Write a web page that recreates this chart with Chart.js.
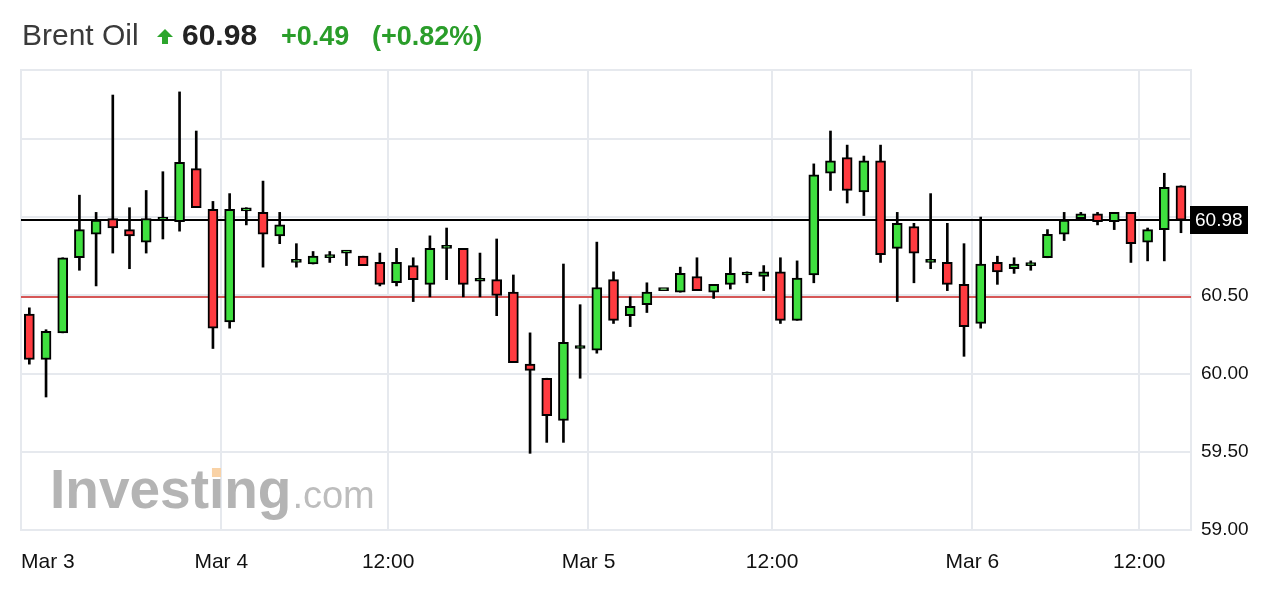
<!DOCTYPE html>
<html>
<head>
<meta charset="utf-8">
<title>Brent Oil</title>
<script src="https://cdn.jsdelivr.net/npm/chart.js@4.4.1/dist/chart.umd.min.js"></script>
<style>
    html, body { margin: 0; padding: 0; background: #fff; }
    body {
        width: 1264px; height: 614px; position: relative; overflow: hidden;
        font-family: "Liberation Sans", Arial, Helvetica, sans-serif;
    }
    #chartWrap { position: absolute; left: 0; top: 0; width: 1264px; height: 614px; }
    .hdr { position: absolute; line-height: 36px; white-space: nowrap; }
    .name { left: 22px; top: 17px; font-size: 30px; color: #3a3a3a; }
    .arrow { left: 157px; top: 29px; width: 16px; height: 15px; }
    .price { left: 182px; top: 17px; font-size: 30px; font-weight: bold; color: #222; }
    .chg { left: 281px; top: 18px; font-size: 27px; font-weight: bold; color: #2a9d2a; }
    .pct { left: 372px; top: 18px; font-size: 27px; font-weight: bold; color: #2a9d2a; }
</style>
</head>
<body>
<div id="chartWrap"><canvas id="brentChart" width="1264" height="614"></canvas></div>
<div class="hdr name">Brent Oil</div>
<svg class="hdr arrow" viewBox="0 0 16 15"><path d="M8 0 L16 8 L11 8 L11 15 L5 15 L5 8 L0 8 Z" fill="#2ca52c"/></svg>
<div class="hdr price">60.98</div>
<div class="hdr chg">+0.49</div>
<div class="hdr pct">(+0.82%)</div>

<script>
// x axis labels (candle index positions, hourly candles)
const timeLabels = ['Mar 3', 'Mar 4', '12:00', 'Mar 5', '12:00', 'Mar 6', '12:00'];
const timeTickPos = [-0.5, 11.5, 21.5, 33.5, 44.5, 56.5, 66.5];

// OHLC values
const opens  = [60.38, 60.09, 60.26, 60.74, 60.89, 60.99, 60.92, 60.84, 60.98, 60.97,
                61.31, 61.05, 60.33, 61.04, 61.03, 60.88, 60.71, 60.70, 60.74, 60.77,
                60.75, 60.71, 60.58, 60.69, 60.57, 60.80, 60.80, 60.59, 60.60, 60.52,
                60.06, 59.97, 59.70, 60.16, 60.15, 60.60, 60.37, 60.44, 60.53, 60.52,
                60.62, 60.52, 60.57, 60.63, 60.62, 60.65, 60.34, 60.63, 61.28, 61.38,
                61.16, 61.36, 60.80, 60.94, 60.71, 60.71, 60.57, 60.32, 60.71, 60.67,
                60.69, 60.74, 60.89, 60.99, 61.02, 60.97, 61.03, 60.84, 60.92, 61.20];
const highs  = [60.42, 60.28, 60.74, 61.14, 61.03, 61.78, 61.06, 61.17, 61.29, 61.80,
                61.55, 61.10, 61.15, 61.06, 61.23, 61.03, 60.83, 60.78, 60.78, 60.78,
                60.75, 60.77, 60.80, 60.74, 60.88, 60.93, 60.80, 60.77, 60.86, 60.63,
                60.26, 59.97, 60.70, 60.44, 60.84, 60.65, 60.49, 60.58, 60.53, 60.68,
                60.74, 60.57, 60.74, 60.65, 60.69, 60.74, 60.72, 61.34, 61.55, 61.46,
                61.39, 61.46, 61.03, 60.96, 61.15, 60.96, 60.83, 61.00, 60.75, 60.74,
                60.72, 60.92, 61.03, 61.03, 61.03, 61.03, 61.03, 60.93, 61.28, 61.20];
const lows   = [60.06, 59.85, 60.26, 60.66, 60.56, 60.77, 60.67, 60.77, 60.86, 60.91,
                61.06, 60.16, 60.29, 60.95, 60.68, 60.83, 60.68, 60.70, 60.71, 60.69,
                60.69, 60.56, 60.56, 60.46, 60.49, 60.60, 60.49, 60.49, 60.37, 60.07,
                59.49, 59.56, 59.56, 59.97, 60.13, 60.32, 60.30, 60.39, 60.53, 60.52,
                60.53, 60.48, 60.54, 60.58, 60.53, 60.32, 60.34, 60.58, 61.17, 61.09,
                61.01, 60.71, 60.46, 60.58, 60.67, 60.53, 60.11, 60.29, 60.57, 60.64,
                60.66, 60.74, 60.85, 60.99, 60.95, 60.92, 60.71, 60.72, 60.72, 60.90];
const closes = [60.09, 60.27, 60.74, 60.92, 60.98, 60.93, 60.88, 60.99, 60.98, 61.35,
                61.06, 60.29, 61.05, 61.04, 60.89, 60.95, 60.71, 60.75, 60.76, 60.77,
                60.69, 60.57, 60.71, 60.60, 60.80, 60.80, 60.57, 60.59, 60.50, 60.07,
                60.02, 59.73, 60.20, 60.16, 60.55, 60.34, 60.43, 60.52, 60.53, 60.64,
                60.53, 60.57, 60.64, 60.63, 60.65, 60.34, 60.61, 61.27, 61.36, 61.17,
                61.36, 60.76, 60.96, 60.77, 60.71, 60.57, 60.30, 60.70, 60.65, 60.70,
                60.69, 60.89, 60.98, 61.02, 60.97, 61.03, 60.83, 60.92, 61.19, 60.98];

// y axis
const yTicks = [59.00, 59.50, 60.00, 60.50, 61.00, 61.50];
const yTickLabels = ['59.00', '59.50', '60.00', '60.50', '', ''];

const lastPrice = 60.98;
const prevClose = 60.49;

const UP = '#3fe03f';
const DOWN = '#ff3b40';
const GRID = '#e6e9ee';
const X_MIN = -0.5, X_MAX = 69.6;

Chart.defaults.font.family = '"Liberation Sans", Arial, Helvetica, sans-serif';

// frame round the plot area
const frameBorder = {
    id: 'frameBorder',
    beforeDatasetsDraw(chart) {
        const { ctx, chartArea: a } = chart;
        ctx.save();
        ctx.strokeStyle = GRID;
        ctx.lineWidth = 2;
        ctx.strokeRect(a.left, a.top, a.right - a.left, a.bottom - a.top);
        ctx.restore();
    }
};

// watermark
const watermark = {
    id: 'watermark',
    beforeDatasetsDraw(chart) {
        const ctx = chart.ctx;
        const x = 50, y = 508;
        ctx.save();
        ctx.textBaseline = 'alphabetic';
        ctx.font = 'bold 55px "Liberation Sans", Arial, sans-serif';
        ctx.fillStyle = '#b4b4b4';
        ctx.fillText('Investing', x, y);
        const w = ctx.measureText('Investing').width;
        const wi = ctx.measureText('Invest').width;
        ctx.fillStyle = '#f9d2a6';
        ctx.fillRect(x + wi + 3, y - 40, 9, 9);
        ctx.font = '38px "Liberation Sans", Arial, sans-serif';
        ctx.fillStyle = '#bdbdbd';
        ctx.fillText('.com', x + w + 1, y);
        ctx.restore();
    }
};

// previous close and last price lines
const priceLines = {
    id: 'priceLines',
    beforeDatasetsDraw(chart) {
        const { ctx, chartArea: a, scales: { y } } = chart;
        ctx.save();
        ctx.lineWidth = 2;
        ctx.strokeStyle = '#d65757';
        const yp = Math.round(y.getPixelForValue(prevClose));
        ctx.beginPath(); ctx.moveTo(a.left, yp); ctx.lineTo(a.right, yp); ctx.stroke();
        ctx.strokeStyle = '#000';
        const yl = Math.round(y.getPixelForValue(lastPrice));
        ctx.beginPath(); ctx.moveTo(a.left, yl); ctx.lineTo(a.right, yl); ctx.stroke();
        ctx.restore();
    },
    afterDraw(chart) {
        const { ctx, chartArea: a, scales: { y } } = chart;
        const yl = Math.round(y.getPixelForValue(lastPrice));
        ctx.save();
        ctx.fillStyle = '#000';
        ctx.fillRect(a.right - 1, yl - 14, 58, 28);
        ctx.fillStyle = '#fff';
        ctx.font = '19px "Liberation Sans", Arial, sans-serif';
        ctx.textBaseline = 'middle';
        ctx.fillText(lastPrice.toFixed(2), a.right + 4, yl + 1);
        ctx.restore();
    }
};

const candleColor = (ctx) => closes[ctx.dataIndex] >= opens[ctx.dataIndex] ? UP : DOWN;

new Chart(document.getElementById('brentChart'), {
    type: 'bar',
    data: {
        datasets: [{
            label: 'body',
            data: opens.map((o, i) => ({ x: i, y: [o, closes[i]] })),
            backgroundColor: candleColor,
            borderColor: '#000',
            borderWidth: 2,
            borderSkipped: false,
            barThickness: 10,
            minBarLength: 3,
            grouped: false,
            order: 0
        }, {
            label: 'wick',
            data: lows.map((l, i) => ({ x: i, y: [l, highs[i]] })),
            backgroundColor: '#000',
            borderWidth: 0,
            barThickness: 2,
            grouped: false,
            order: 1
        }]
    },
    options: {
        responsive: false,
        animation: false,
        layout: { padding: { left: 21, top: 70, right: 0, bottom: 0 } },
        plugins: {
            legend: { display: false },
            tooltip: { enabled: false }
        },
        scales: {
            x: {
                type: 'linear',
                min: X_MIN,
                max: X_MAX,
                offset: false,
                grid: { color: GRID, lineWidth: 2, drawTicks: false, offset: false },
                border: { display: false },
                afterBuildTicks(axis) {
                    axis.ticks = timeTickPos.concat([X_MAX]).map(v => ({ value: v }));
                },
                afterFit(axis) { axis.height = 84; },
                ticks: {
                    autoSkip: false,
                    maxRotation: 0,
                    align: 'inner',
                    padding: 20,
                    color: '#111',
                    font: { size: 21 },
                    callback(value) {
                        const k = timeTickPos.indexOf(value);
                        return k >= 0 ? timeLabels[k] : '';
                    }
                }
            },
            y: {
                position: 'right',
                min: 59.0,
                max: 61.94,
                grid: { color: GRID, lineWidth: 2, drawTicks: false },
                border: { display: false },
                afterBuildTicks(axis) {
                    axis.ticks = yTicks.map(v => ({ value: v }));
                },
                afterFit(axis) { axis.width = 73; },
                ticks: {
                    padding: 10,
                    color: '#111',
                    font: { size: 19 },
                    callback(value) {
                        const k = yTicks.indexOf(value);
                        return k >= 0 ? yTickLabels[k] : '';
                    }
                }
            }
        }
    },
    plugins: [frameBorder, watermark, priceLines]
});
</script>
</body>
</html>
